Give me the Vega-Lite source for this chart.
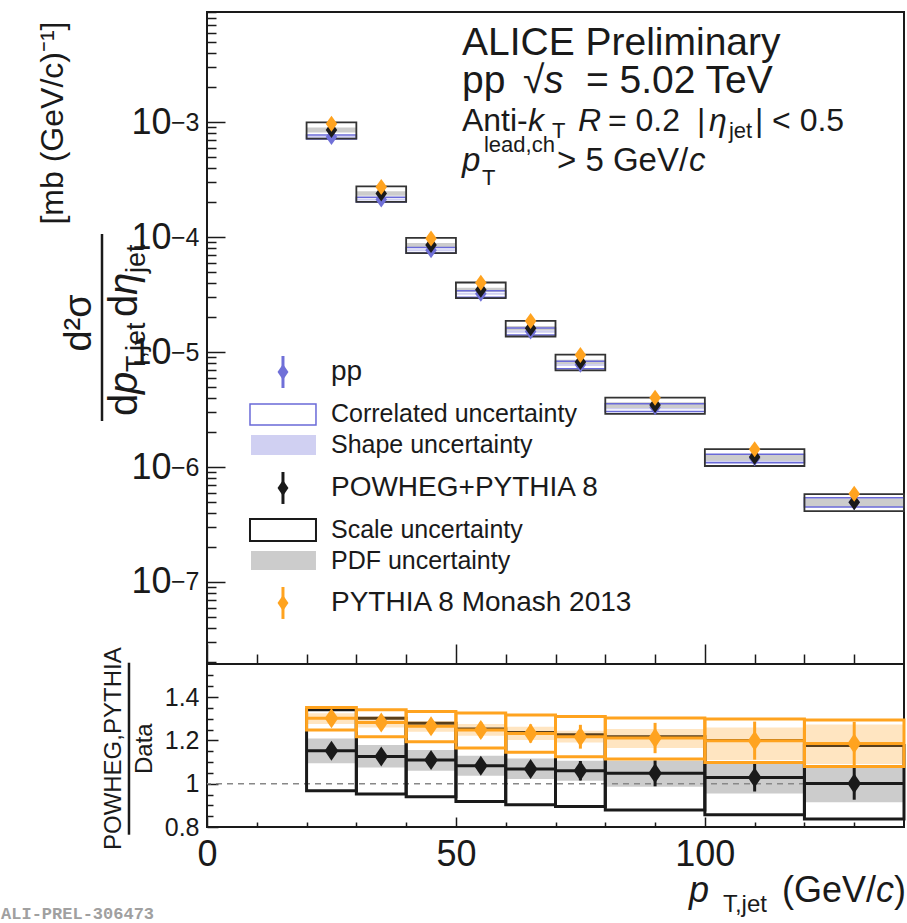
{
  "$schema": "https://vega.github.io/schema/vega-lite/v6.json",
  "padding": {"left": 0, "top": 10, "right": 0, "bottom": 0},
  "autosize": {"type": "pad"},
  "bounds": "flush",
  "spacing": 0,
  "datasets": {
    "bins": [
      {"pt_lo": 20, "pt_hi": 30, "pt": 25, "data": 7.41e-4, "corr_lo": 7.106e-4, "corr_hi": 7.692e-4, "shape_lo": 7.262e-4, "shape_hi": 7.543e-4, "powheg": 8.536e-4, "scale_lo": 7.173e-4, "scale_hi": 9.944e-4, "pdf_lo": 8.107e-4, "pdf_hi": 8.959e-4, "pythia": 9.648e-4, "r_powheg": 1.152, "r_powheg_err": 0.02, "r_scale_lo": 0.968, "r_scale_hi": 1.342, "r_pdf_lo": 1.094, "r_pdf_hi": 1.209, "r_pythia": 1.302, "r_pythia_err": 0.025, "r_corr_lo": 1.248, "r_corr_hi": 1.352, "r_shape_lo": 1.276, "r_shape_hi": 1.325},
      {"pt_lo": 30, "pt_hi": 40, "pt": 35, "data": 2.12e-4, "corr_lo": 2.012e-4, "corr_hi": 2.218e-4, "shape_lo": 2.082e-4, "shape_hi": 2.165e-4, "powheg": 2.387e-4, "scale_lo": 2.018e-4, "scale_hi": 2.76e-4, "pdf_lo": 2.279e-4, "pdf_hi": 2.499e-4, "pythia": 2.72e-4, "r_powheg": 1.126, "r_powheg_err": 0.022, "r_scale_lo": 0.952, "r_scale_hi": 1.302, "r_pdf_lo": 1.075, "r_pdf_hi": 1.179, "r_pythia": 1.283, "r_pythia_err": 0.028, "r_corr_lo": 1.217, "r_corr_hi": 1.342, "r_shape_lo": 1.26, "r_shape_hi": 1.31},
      {"pt_lo": 40, "pt_hi": 50, "pt": 45, "data": 7.69e-5, "corr_lo": 7.259e-5, "corr_hi": 8.113e-5, "shape_lo": 7.536e-5, "shape_hi": 7.844e-5, "powheg": 8.528e-5, "scale_lo": 7.229e-5, "scale_hi": 9.836e-5, "pdf_lo": 8.151e-5, "pdf_hi": 8.89e-5, "pythia": 9.728e-5, "r_powheg": 1.109, "r_powheg_err": 0.025, "r_scale_lo": 0.94, "r_scale_hi": 1.279, "r_pdf_lo": 1.06, "r_pdf_hi": 1.156, "r_pythia": 1.265, "r_pythia_err": 0.032, "r_corr_lo": 1.194, "r_corr_hi": 1.334, "r_shape_lo": 1.24, "r_shape_hi": 1.29},
      {"pt_lo": 50, "pt_hi": 60, "pt": 55, "data": 3.21e-5, "corr_lo": 2.995e-5, "corr_hi": 3.412e-5, "shape_lo": 3.143e-5, "shape_hi": 3.281e-5, "powheg": 3.476e-5, "scale_lo": 2.947e-5, "scale_hi": 4.022e-5, "pdf_lo": 3.329e-5, "pdf_hi": 3.624e-5, "pythia": 4.006e-5, "r_powheg": 1.083, "r_powheg_err": 0.028, "r_scale_lo": 0.918, "r_scale_hi": 1.253, "r_pdf_lo": 1.037, "r_pdf_hi": 1.129, "r_pythia": 1.248, "r_pythia_err": 0.036, "r_corr_lo": 1.165, "r_corr_hi": 1.327, "r_shape_lo": 1.222, "r_shape_hi": 1.276},
      {"pt_lo": 60, "pt_hi": 70, "pt": 65, "data": 1.51e-5, "corr_lo": 1.403e-5, "corr_hi": 1.614e-5, "shape_lo": 1.474e-5, "shape_hi": 1.548e-5, "powheg": 1.613e-5, "scale_lo": 1.364e-5, "scale_hi": 1.866e-5, "pdf_lo": 1.543e-5, "pdf_hi": 1.687e-5, "pythia": 1.86e-5, "r_powheg": 1.068, "r_powheg_err": 0.032, "r_scale_lo": 0.903, "r_scale_hi": 1.236, "r_pdf_lo": 1.022, "r_pdf_hi": 1.117, "r_pythia": 1.232, "r_pythia_err": 0.042, "r_corr_lo": 1.145, "r_corr_hi": 1.317, "r_shape_lo": 1.202, "r_shape_hi": 1.263},
      {"pt_lo": 70, "pt_hi": 80, "pt": 75, "data": 7.74e-6, "corr_lo": 7.152e-6, "corr_hi": 8.328e-6, "shape_lo": 7.57e-6, "shape_hi": 7.918e-6, "powheg": 8.204e-6, "scale_lo": 6.927e-6, "scale_hi": 9.489e-6, "pdf_lo": 7.849e-6, "pdf_hi": 8.56e-6, "pythia": 9.42e-6, "r_powheg": 1.06, "r_powheg_err": 0.045, "r_scale_lo": 0.895, "r_scale_hi": 1.226, "r_pdf_lo": 1.014, "r_pdf_hi": 1.106, "r_pythia": 1.217, "r_pythia_err": 0.055, "r_corr_lo": 1.125, "r_corr_hi": 1.31, "r_shape_lo": 1.19, "r_shape_hi": 1.245},
      {"pt_lo": 80, "pt_hi": 100, "pt": 90, "data": 3.3e-6, "corr_lo": 3.036e-6, "corr_hi": 3.551e-6, "shape_lo": 3.175e-6, "shape_hi": 3.416e-6, "powheg": 3.458e-6, "scale_lo": 2.897e-6, "scale_hi": 4.016e-6, "pdf_lo": 3.254e-6, "pdf_hi": 3.65e-6, "pythia": 3.996e-6, "r_powheg": 1.048, "r_powheg_err": 0.06, "r_scale_lo": 0.878, "r_scale_hi": 1.217, "r_pdf_lo": 0.986, "r_pdf_hi": 1.106, "r_pythia": 1.211, "r_pythia_err": 0.07, "r_corr_lo": 1.114, "r_corr_hi": 1.303, "r_shape_lo": 1.165, "r_shape_hi": 1.253},
      {"pt_lo": 100, "pt_hi": 120, "pt": 110, "data": 1.19e-6, "corr_lo": 1.09e-6, "corr_hi": 1.289e-6, "shape_lo": 1.102e-6, "shape_hi": 1.251e-6, "powheg": 1.2245e-6, "scale_lo": 1.02e-6, "scale_hi": 1.428e-6, "pdf_lo": 1.136e-6, "pdf_hi": 1.298e-6, "pythia": 1.427e-6, "r_powheg": 1.029, "r_powheg_err": 0.065, "r_scale_lo": 0.857, "r_scale_hi": 1.2, "r_pdf_lo": 0.955, "r_pdf_hi": 1.091, "r_pythia": 1.199, "r_pythia_err": 0.088, "r_corr_lo": 1.098, "r_corr_hi": 1.299, "r_shape_lo": 1.11, "r_shape_hi": 1.26},
      {"pt_lo": 120, "pt_hi": 140, "pt": 130, "data": 4.94e-7, "corr_lo": 4.495e-7, "corr_hi": 5.39e-7, "shape_lo": 4.545e-7, "shape_hi": 5.301e-7, "powheg": 4.945e-7, "scale_lo": 4.135e-7, "scale_hi": 5.809e-7, "pdf_lo": 4.515e-7, "pdf_hi": 5.33e-7, "pythia": 5.859e-7, "r_powheg": 1.001, "r_powheg_err": 0.075, "r_scale_lo": 0.837, "r_scale_hi": 1.176, "r_pdf_lo": 0.914, "r_pdf_hi": 1.079, "r_pythia": 1.186, "r_pythia_err": 0.1, "r_corr_lo": 1.079, "r_corr_hi": 1.294, "r_shape_lo": 1.091, "r_shape_hi": 1.273}
    ]
  },
  "vconcat": [
    {
      "width": 697,
      "height": 652,
      "data": {"name": "bins"},
      "layer": [
        {
          "mark": {"type": "rect", "fill": "#d0d0f2"},
          "encoding": {
            "x": {"field": "pt_lo", "type": "quantitative", "scale": {"domain": [0, 140], "nice": false, "zero": false},
                  "axis": {"orient": "bottom", "values": [0, 50, 100], "tickSize": -20, "labels": false, "domain": false, "grid": false, "title": null}},
            "x2": {"field": "pt_hi"},
            "y": {"field": "shape_lo", "type": "quantitative", "scale": {"type": "log", "domain": [1.936e-8, 9.05e-3], "nice": false},
                  "axis": {"orient": "left", "values": [1e-7, 1e-6, 1e-5, 1e-4, 1e-3], "tickSize": -18, "labels": false, "domain": false, "grid": false, "title": null}},
            "y2": {"field": "shape_hi"}
          }
        },
        {
          "mark": {"type": "rect", "fill": "#cccccc"},
          "encoding": {
            "x": {"field": "pt_lo", "type": "quantitative",
                  "axis": {"orient": "bottom", "values": [10, 20, 30, 40, 60, 70, 80, 90, 110, 120, 130], "tickSize": -10, "labels": false, "domain": false, "grid": false, "title": null}},
            "x2": {"field": "pt_hi"},
            "y": {"field": "pdf_lo", "type": "quantitative",
                  "axis": {"orient": "left", "values": [2e-8, 3e-8, 4e-8, 5e-8, 6e-8, 7e-8, 8e-8, 9e-8, 2e-7, 3e-7, 4e-7, 5e-7, 6e-7, 7e-7, 8e-7, 9e-7, 2e-6, 3e-6, 4e-6, 5e-6, 6e-6, 7e-6, 8e-6, 9e-6, 2e-5, 3e-5, 4e-5, 5e-5, 6e-5, 7e-5, 8e-5, 9e-5, 2e-4, 3e-4, 4e-4, 5e-4, 6e-4, 7e-4, 8e-4, 9e-4, 2e-3, 3e-3, 4e-3, 5e-3, 6e-3, 7e-3, 8e-3, 9e-3], "tickSize": -9, "labels": false, "domain": false, "grid": false, "title": null}},
            "y2": {"field": "pdf_hi"}
          }
        },
        {
          "mark": {"type": "rect", "fill": "transparent", "stroke": "#6a6ad8", "strokeWidth": 1.5},
          "encoding": {
            "x": {"field": "pt_lo", "type": "quantitative", "axis": null},
            "x2": {"field": "pt_hi"},
            "y": {"field": "corr_lo", "type": "quantitative",
                  "axis": {"orient": "left", "values": [1e-7, 1e-6, 1e-5, 1e-4, 1e-3], "ticks": false, "labelExpr": "'10'", "labelFontSize": 36, "labelPadding": 36, "labelAlign": "right", "labelBaseline": "middle", "labelFlush": false, "labelOverlap": false, "domain": false, "grid": false, "title": null}},
            "y2": {"field": "corr_hi"}
          }
        },
        {
          "mark": {"type": "rect", "fill": "transparent", "stroke": "#333333", "strokeWidth": 1.8},
          "encoding": {
            "x": {"field": "pt_lo", "type": "quantitative", "axis": null},
            "x2": {"field": "pt_hi"},
            "y": {"field": "scale_lo", "type": "quantitative",
                  "axis": {"orient": "left", "values": [1e-7, 1e-6, 1e-5, 1e-4, 1e-3], "ticks": false, "labelExpr": "'−' + round(-log(datum.value) / LN10)", "labelFontSize": 25, "labelPadding": 8, "labelDy": -14, "labelAlign": "right", "labelBaseline": "middle", "labelFlush": false, "labelOverlap": false, "domain": false, "grid": false, "title": null}},
            "y2": {"field": "scale_hi"}
          }
        },
        {
          "mark": {"type": "point", "shape": "M0,-1L0.72,0L0,1L-0.72,0Z", "filled": true, "size": 256, "opacity": 1, "color": "#7070d8"},
          "encoding": {
            "x": {"field": "pt", "type": "quantitative", "axis": null},
            "y": {"field": "data", "type": "quantitative", "axis": null}
          }
        },
        {
          "mark": {"type": "point", "shape": "M0,-1L0.72,0L0,1L-0.72,0Z", "filled": true, "size": 256, "opacity": 1, "color": "#1a1a1a"},
          "encoding": {
            "x": {"field": "pt", "type": "quantitative", "axis": null},
            "y": {"field": "powheg", "type": "quantitative", "axis": null}
          }
        },
        {
          "mark": {"type": "point", "shape": "M0,-1L0.72,0L0,1L-0.72,0Z", "filled": true, "size": 256, "opacity": 1, "color": "#ffa31f"},
          "encoding": {
            "x": {"field": "pt", "type": "quantitative", "axis": null},
            "y": {"field": "pythia", "type": "quantitative", "axis": null}
          }
        },
        {
          "data": {"values": [{}]},
          "mark": {"type": "rule", "color": "#7070d8", "strokeWidth": 3},
          "encoding": {"x": {"datum": 15.26, "type": "quantitative", "axis": null}, "y": {"datum": 9.23e-6, "type": "quantitative", "axis": null}, "y2": {"datum": 4.864e-6}}
        },
        {
          "data": {"values": [{}]},
          "mark": {"type": "point", "shape": "M0,-1L0.68,0L0,1L-0.68,0Z", "filled": true, "size": 256, "opacity": 1, "color": "#7070d8"},
          "encoding": {"x": {"datum": 15.26, "type": "quantitative", "axis": null}, "y": {"datum": 6.7e-6, "type": "quantitative", "axis": null}}
        },
        {
          "data": {"values": [{}]},
          "mark": {"type": "text", "text": "pp", "fontSize": 28, "align": "left", "baseline": "middle", "color": "#1a1a1a"},
          "encoding": {"x": {"datum": 24.9, "type": "quantitative", "axis": null}, "y": {"datum": 6.7e-6, "type": "quantitative", "axis": null}}
        },
        {
          "data": {"values": [{}]},
          "mark": {"type": "rect", "fill": "white", "stroke": "#6a6ad8", "strokeWidth": 1.5},
          "encoding": {"x": {"datum": 8.636, "type": "quantitative", "axis": null}, "x2": {"datum": 21.89}, "y": {"datum": 3.53e-6, "type": "quantitative", "axis": null}, "y2": {"datum": 2.318e-6}}
        },
        {
          "data": {"values": [{}]},
          "mark": {"type": "text", "text": "Correlated uncertainty", "fontSize": 25, "align": "left", "baseline": "middle", "color": "#1a1a1a"},
          "encoding": {"x": {"datum": 24.9, "type": "quantitative", "axis": null}, "y": {"datum": 2.89e-6, "type": "quantitative", "axis": null}}
        },
        {
          "data": {"values": [{}]},
          "mark": {"type": "rect", "fill": "#d0d0f2"},
          "encoding": {"x": {"datum": 8.837, "type": "quantitative", "axis": null}, "x2": {"datum": 21.89}, "y": {"datum": 1.898e-6, "type": "quantitative", "axis": null}, "y2": {"datum": 1.272e-6}}
        },
        {
          "data": {"values": [{}]},
          "mark": {"type": "text", "text": "Shape uncertainty", "fontSize": 25, "align": "left", "baseline": "middle", "color": "#1a1a1a"},
          "encoding": {"x": {"datum": 24.9, "type": "quantitative", "axis": null}, "y": {"datum": 1.553e-6, "type": "quantitative", "axis": null}}
        },
        {
          "data": {"values": [{}]},
          "mark": {"type": "rule", "color": "#1a1a1a", "strokeWidth": 3},
          "encoding": {"x": {"datum": 15.26, "type": "quantitative", "axis": null}, "y": {"datum": 9.05e-7, "type": "quantitative", "axis": null}, "y2": {"datum": 4.77e-7}}
        },
        {
          "data": {"values": [{}]},
          "mark": {"type": "point", "shape": "M0,-1L0.68,0L0,1L-0.68,0Z", "filled": true, "size": 256, "opacity": 1, "color": "#1a1a1a"},
          "encoding": {"x": {"datum": 15.26, "type": "quantitative", "axis": null}, "y": {"datum": 6.57e-7, "type": "quantitative", "axis": null}}
        },
        {
          "data": {"values": [{}]},
          "mark": {"type": "text", "text": "POWHEG+PYTHIA 8", "fontSize": 28, "align": "left", "baseline": "middle", "color": "#1a1a1a"},
          "encoding": {"x": {"datum": 24.9, "type": "quantitative", "axis": null}, "y": {"datum": 6.57e-7, "type": "quantitative", "axis": null}}
        },
        {
          "data": {"values": [{}]},
          "mark": {"type": "rect", "fill": "white", "stroke": "#1a1a1a", "strokeWidth": 2},
          "encoding": {"x": {"datum": 8.636, "type": "quantitative", "axis": null}, "x2": {"datum": 21.89}, "y": {"datum": 3.53e-7, "type": "quantitative", "axis": null}, "y2": {"datum": 2.272e-7}}
        },
        {
          "data": {"values": [{}]},
          "mark": {"type": "text", "text": "Scale uncertainty", "fontSize": 25, "align": "left", "baseline": "middle", "color": "#1a1a1a"},
          "encoding": {"x": {"datum": 24.9, "type": "quantitative", "axis": null}, "y": {"datum": 2.832e-7, "type": "quantitative", "axis": null}}
        },
        {
          "data": {"values": [{}]},
          "mark": {"type": "rect", "fill": "#cccccc"},
          "encoding": {"x": {"datum": 8.837, "type": "quantitative", "axis": null}, "x2": {"datum": 21.89}, "y": {"datum": 1.861e-7, "type": "quantitative", "axis": null}, "y2": {"datum": 1.272e-7}}
        },
        {
          "data": {"values": [{}]},
          "mark": {"type": "text", "text": "PDF uncertainty", "fontSize": 25, "align": "left", "baseline": "middle", "color": "#1a1a1a"},
          "encoding": {"x": {"datum": 24.9, "type": "quantitative", "axis": null}, "y": {"datum": 1.523e-7, "type": "quantitative", "axis": null}}
        },
        {
          "data": {"values": [{}]},
          "mark": {"type": "rule", "color": "#ffa31f", "strokeWidth": 3},
          "encoding": {"x": {"datum": 15.26, "type": "quantitative", "axis": null}, "y": {"datum": 9.05e-8, "type": "quantitative", "axis": null}, "y2": {"datum": 4.77e-8}}
        },
        {
          "data": {"values": [{}]},
          "mark": {"type": "point", "shape": "M0,-1L0.68,0L0,1L-0.68,0Z", "filled": true, "size": 256, "opacity": 1, "color": "#ffa31f"},
          "encoding": {"x": {"datum": 15.26, "type": "quantitative", "axis": null}, "y": {"datum": 6.57e-8, "type": "quantitative", "axis": null}}
        },
        {
          "data": {"values": [{}]},
          "mark": {"type": "text", "text": "PYTHIA 8 Monash 2013", "fontSize": 28, "align": "left", "baseline": "middle", "color": "#1a1a1a"},
          "encoding": {"x": {"datum": 24.9, "type": "quantitative", "axis": null}, "y": {"datum": 6.57e-8, "type": "quantitative", "axis": null}}
        },
        {
          "data": {"values": [{}]},
          "mark": {"type": "text", "text": "ALICE Preliminary", "fontSize": 39, "align": "left", "baseline": "alphabetic", "color": "#1a1a1a"},
          "encoding": {"x": {"datum": 51.21, "type": "quantitative", "axis": null}, "y": {"datum": 3.825e-3, "type": "quantitative", "axis": null}}
        },
        {
          "data": {"values": [{}]},
          "mark": {"type": "text", "text": "pp", "fontSize": 39, "align": "left", "baseline": "alphabetic", "color": "#1a1a1a"},
          "encoding": {"x": {"datum": 51.21, "type": "quantitative", "axis": null}, "y": {"datum": 1.788e-3, "type": "quantitative", "axis": null}}
        },
        {
          "data": {"values": [{}]},
          "mark": {"type": "text", "text": "√", "fontSize": 39, "align": "left", "baseline": "alphabetic", "color": "#1a1a1a"},
          "encoding": {"x": {"datum": 63.47, "type": "quantitative", "axis": null}, "y": {"datum": 1.788e-3, "type": "quantitative", "axis": null}}
        },
        {
          "data": {"values": [{}]},
          "mark": {"type": "text", "text": "s", "fontSize": 39, "fontStyle": "italic", "align": "left", "baseline": "alphabetic", "color": "#1a1a1a"},
          "encoding": {"x": {"datum": 67.69, "type": "quantitative", "axis": null}, "y": {"datum": 1.788e-3, "type": "quantitative", "axis": null}}
        },
        {
          "data": {"values": [{}]},
          "mark": {"type": "text", "text": "= 5.02 TeV", "fontSize": 39, "align": "left", "baseline": "alphabetic", "color": "#1a1a1a"},
          "encoding": {"x": {"datum": 76.12, "type": "quantitative", "axis": null}, "y": {"datum": 1.788e-3, "type": "quantitative", "axis": null}}
        },
        {
          "data": {"values": [{}]},
          "mark": {"type": "text", "text": "Anti-", "fontSize": 32, "align": "left", "baseline": "alphabetic", "color": "#1a1a1a"},
          "encoding": {"x": {"datum": 51.21, "type": "quantitative", "axis": null}, "y": {"datum": 8.35e-4, "type": "quantitative", "axis": null}}
        },
        {
          "data": {"values": [{}]},
          "mark": {"type": "text", "text": "k", "fontSize": 32, "fontStyle": "italic", "align": "left", "baseline": "alphabetic", "color": "#1a1a1a"},
          "encoding": {"x": {"datum": 64.47, "type": "quantitative", "axis": null}, "y": {"datum": 8.35e-4, "type": "quantitative", "axis": null}}
        },
        {
          "data": {"values": [{}]},
          "mark": {"type": "text", "text": "T", "fontSize": 22, "align": "left", "baseline": "alphabetic", "color": "#1a1a1a"},
          "encoding": {"x": {"datum": 69.29, "type": "quantitative", "axis": null}, "y": {"datum": 7.26e-4, "type": "quantitative", "axis": null}}
        },
        {
          "data": {"values": [{}]},
          "mark": {"type": "text", "text": "R", "fontSize": 32, "fontStyle": "italic", "align": "left", "baseline": "alphabetic", "color": "#1a1a1a"},
          "encoding": {"x": {"datum": 74.51, "type": "quantitative", "axis": null}, "y": {"datum": 8.35e-4, "type": "quantitative", "axis": null}}
        },
        {
          "data": {"values": [{}]},
          "mark": {"type": "text", "text": "= 0.2", "fontSize": 32, "align": "left", "baseline": "alphabetic", "color": "#1a1a1a"},
          "encoding": {"x": {"datum": 80.53, "type": "quantitative", "axis": null}, "y": {"datum": 8.35e-4, "type": "quantitative", "axis": null}}
        },
        {
          "data": {"values": [{}]},
          "mark": {"type": "text", "text": "|", "fontSize": 32, "align": "left", "baseline": "alphabetic", "color": "#1a1a1a"},
          "encoding": {"x": {"datum": 98.41, "type": "quantitative", "axis": null}, "y": {"datum": 8.35e-4, "type": "quantitative", "axis": null}}
        },
        {
          "data": {"values": [{}]},
          "mark": {"type": "text", "text": "η", "fontSize": 32, "fontStyle": "italic", "align": "left", "baseline": "alphabetic", "color": "#1a1a1a"},
          "encoding": {"x": {"datum": 100.82, "type": "quantitative", "axis": null}, "y": {"datum": 8.35e-4, "type": "quantitative", "axis": null}}
        },
        {
          "data": {"values": [{}]},
          "mark": {"type": "text", "text": "jet", "fontSize": 22, "align": "left", "baseline": "alphabetic", "color": "#1a1a1a"},
          "encoding": {"x": {"datum": 104.83, "type": "quantitative", "axis": null}, "y": {"datum": 7.26e-4, "type": "quantitative", "axis": null}}
        },
        {
          "data": {"values": [{}]},
          "mark": {"type": "text", "text": "| < 0.5", "fontSize": 32, "align": "left", "baseline": "alphabetic", "color": "#1a1a1a"},
          "encoding": {"x": {"datum": 110.05, "type": "quantitative", "axis": null}, "y": {"datum": 8.35e-4, "type": "quantitative", "axis": null}}
        },
        {
          "data": {"values": [{}]},
          "mark": {"type": "text", "text": "p", "fontSize": 33, "fontStyle": "italic", "align": "left", "baseline": "alphabetic", "color": "#1a1a1a"},
          "encoding": {"x": {"datum": 51.21, "type": "quantitative", "axis": null}, "y": {"datum": 3.749e-4, "type": "quantitative", "axis": null}}
        },
        {
          "data": {"values": [{}]},
          "mark": {"type": "text", "text": "lead,ch", "fontSize": 22, "align": "left", "baseline": "alphabetic", "color": "#1a1a1a"},
          "encoding": {"x": {"datum": 55.63, "type": "quantitative", "axis": null}, "y": {"datum": 5.484e-4, "type": "quantitative", "axis": null}}
        },
        {
          "data": {"values": [{}]},
          "mark": {"type": "text", "text": "T", "fontSize": 22, "align": "left", "baseline": "alphabetic", "color": "#1a1a1a"},
          "encoding": {"x": {"datum": 55.23, "type": "quantitative", "axis": null}, "y": {"datum": 2.833e-4, "type": "quantitative", "axis": null}}
        },
        {
          "data": {"values": [{}]},
          "mark": {"type": "text", "text": "> 5 GeV/", "fontSize": 33, "align": "left", "baseline": "alphabetic", "color": "#1a1a1a"},
          "encoding": {"x": {"datum": 70.29, "type": "quantitative", "axis": null}, "y": {"datum": 3.749e-4, "type": "quantitative", "axis": null}}
        },
        {
          "data": {"values": [{}]},
          "mark": {"type": "text", "text": "c", "fontSize": 33, "fontStyle": "italic", "align": "left", "baseline": "alphabetic", "color": "#1a1a1a"},
          "encoding": {"x": {"datum": 96.8, "type": "quantitative", "axis": null}, "y": {"datum": 3.749e-4, "type": "quantitative", "axis": null}}
        },
        {
          "data": {"values": [{}]},
          "mark": {"type": "text", "text": "[mb (GeV/c)⁻¹]", "fontSize": 32, "angle": 270, "align": "center", "baseline": "alphabetic", "color": "#1a1a1a"},
          "encoding": {"x": {"datum": -28.92, "type": "quantitative", "axis": null}, "y": {"datum": 9.8e-4, "type": "quantitative", "axis": null}}
        },
        {
          "data": {"values": [{}]},
          "mark": {"type": "text", "text": "d²σ", "fontSize": 38, "angle": 270, "align": "center", "baseline": "alphabetic", "color": "#1a1a1a"},
          "encoding": {"x": {"datum": -23.3, "type": "quantitative", "axis": null}, "y": {"datum": 1.788e-5, "type": "quantitative", "axis": null}}
        },
        {
          "data": {"values": [{}]},
          "mark": {"type": "rule", "color": "#1a1a1a", "strokeWidth": 2.5},
          "encoding": {"x": {"datum": -21.09, "type": "quantitative", "axis": null}, "y": {"datum": 1.062e-4, "type": "quantitative", "axis": null}, "y2": {"datum": 2.512e-6}}
        },
        {
          "data": {"values": [{}]},
          "mark": {"type": "text", "text": "d", "fontSize": 40, "angle": 270, "align": "left", "baseline": "alphabetic", "color": "#1a1a1a"},
          "encoding": {"x": {"datum": -14.06, "type": "quantitative", "axis": null}, "y": {"datum": 2.776e-6, "type": "quantitative", "axis": null}}
        },
        {
          "data": {"values": [{}]},
          "mark": {"type": "text", "text": "p", "fontSize": 40, "fontStyle": "italic", "angle": 270, "align": "left", "baseline": "alphabetic", "color": "#1a1a1a"},
          "encoding": {"x": {"datum": -14.06, "type": "quantitative", "axis": null}, "y": {"datum": 4.313e-6, "type": "quantitative", "axis": null}}
        },
        {
          "data": {"values": [{}]},
          "mark": {"type": "text", "text": "T,jet", "fontSize": 27, "angle": 270, "align": "left", "baseline": "alphabetic", "color": "#1a1a1a"},
          "encoding": {"x": {"datum": -12.45, "type": "quantitative", "axis": null}, "y": {"datum": 6.7e-6, "type": "quantitative", "axis": null}}
        },
        {
          "data": {"values": [{}]},
          "mark": {"type": "text", "text": "d", "fontSize": 40, "angle": 270, "align": "left", "baseline": "alphabetic", "color": "#1a1a1a"},
          "encoding": {"x": {"datum": -14.06, "type": "quantitative", "axis": null}, "y": {"datum": 2.015e-5, "type": "quantitative", "axis": null}}
        },
        {
          "data": {"values": [{}]},
          "mark": {"type": "text", "text": "η", "fontSize": 40, "fontStyle": "italic", "angle": 270, "align": "left", "baseline": "alphabetic", "color": "#1a1a1a"},
          "encoding": {"x": {"datum": -14.06, "type": "quantitative", "axis": null}, "y": {"datum": 3.131e-5, "type": "quantitative", "axis": null}}
        },
        {
          "data": {"values": [{}]},
          "mark": {"type": "text", "text": "jet", "fontSize": 27, "angle": 270, "align": "left", "baseline": "alphabetic", "color": "#1a1a1a"},
          "encoding": {"x": {"datum": -12.45, "type": "quantitative", "axis": null}, "y": {"datum": 4.864e-5, "type": "quantitative", "axis": null}}
        }
      ],
      "resolve": {"axis": {"x": "independent", "y": "independent"}}
    },
    {
      "width": 697,
      "height": 163,
      "data": {"name": "bins"},
      "layer": [
        {
          "mark": {"type": "rect", "fill": "#cccccc"},
          "encoding": {
            "x": {"field": "pt_lo", "type": "quantitative", "scale": {"domain": [0, 140], "nice": false, "zero": false},
                  "axis": {"orient": "bottom", "values": [0, 50, 100], "tickSize": -10, "labels": false, "domain": false, "grid": false, "title": null}},
            "x2": {"field": "pt_hi"},
            "y": {"field": "r_pdf_lo", "type": "quantitative", "scale": {"domain": [0.8, 1.553], "nice": false, "zero": false},
                  "axis": {"orient": "left", "values": [0.8, 1.0, 1.2, 1.4], "tickSize": -11, "labels": false, "domain": false, "grid": false, "title": null}},
            "y2": {"field": "r_pdf_hi"}
          }
        },
        {
          "data": {"values": [{}]},
          "mark": {"type": "rule", "color": "#888888", "strokeWidth": 1.5, "strokeDash": [6, 5]},
          "encoding": {"y": {"datum": 1, "type": "quantitative", "axis": null}}
        },
        {
          "mark": {"type": "rect", "fill": "transparent", "stroke": "#1a1a1a", "strokeWidth": 3},
          "encoding": {
            "x": {"field": "pt_lo", "type": "quantitative",
                  "axis": {"orient": "bottom", "values": [10, 20, 30, 40, 60, 70, 80, 90, 110, 120, 130], "tickSize": -5, "labels": false, "domain": false, "grid": false, "title": null}},
            "x2": {"field": "pt_hi"},
            "y": {"field": "r_scale_lo", "type": "quantitative",
                  "axis": {"orient": "left", "values": [0.85, 0.9, 0.95, 1.05, 1.1, 1.15, 1.25, 1.3, 1.35, 1.45, 1.5], "tickSize": -6, "labels": false, "domain": false, "grid": false, "title": null}},
            "y2": {"field": "r_scale_hi"}
          }
        },
        {
          "mark": {"type": "rule", "color": "#1a1a1a", "strokeWidth": 3},
          "encoding": {
            "x": {"field": "pt_lo", "type": "quantitative",
                  "axis": {"orient": "bottom", "values": [0, 50, 100], "ticks": false, "labelFontSize": 36, "labelPadding": 10, "labelFlush": false, "labelOverlap": false, "labelBaseline": "top", "domain": false, "grid": false, "title": null}},
            "x2": {"field": "pt_hi"},
            "y": {"field": "r_powheg", "type": "quantitative",
                  "axis": {"orient": "left", "values": [0.8, 1.0, 1.2, 1.4], "ticks": false, "labelExpr": "datum.value == 1 ? '1' : format(datum.value, '.1f')", "labelFontSize": 25, "labelPadding": 8, "labelFlush": false, "labelOverlap": false, "labelAlign": "right", "labelBaseline": "middle", "domain": false, "grid": false, "title": null}}
          }
        },
        {
          "mark": {"type": "errorbar", "color": "#1a1a1a", "rule": {"strokeWidth": 3}},
          "encoding": {
            "x": {"field": "pt", "type": "quantitative", "axis": null},
            "y": {"field": "r_powheg", "type": "quantitative", "axis": null},
            "yError": {"field": "r_powheg_err"}
          }
        },
        {
          "mark": {"type": "point", "shape": "M0,-1L0.68,0L0,1L-0.68,0Z", "filled": true, "size": 400, "opacity": 1, "color": "#1a1a1a"},
          "encoding": {
            "x": {"field": "pt", "type": "quantitative", "axis": null},
            "y": {"field": "r_powheg", "type": "quantitative", "axis": null}
          }
        },
        {
          "mark": {"type": "rect", "fill": "#ffa31f", "fillOpacity": 0.28},
          "encoding": {
            "x": {"field": "pt_lo", "type": "quantitative", "axis": null},
            "x2": {"field": "pt_hi"},
            "y": {"field": "r_shape_lo", "type": "quantitative", "axis": null},
            "y2": {"field": "r_shape_hi"}
          }
        },
        {
          "mark": {"type": "rect", "fill": "transparent", "stroke": "#ffa31f", "strokeWidth": 3},
          "encoding": {
            "x": {"field": "pt_lo", "type": "quantitative", "axis": null},
            "x2": {"field": "pt_hi"},
            "y": {"field": "r_corr_lo", "type": "quantitative", "axis": null},
            "y2": {"field": "r_corr_hi"}
          }
        },
        {
          "mark": {"type": "rule", "color": "#ffa31f", "strokeWidth": 3},
          "encoding": {
            "x": {"field": "pt_lo", "type": "quantitative", "axis": null},
            "x2": {"field": "pt_hi"},
            "y": {"field": "r_pythia", "type": "quantitative", "axis": null}
          }
        },
        {
          "mark": {"type": "errorbar", "color": "#ffa31f", "rule": {"strokeWidth": 3}},
          "encoding": {
            "x": {"field": "pt", "type": "quantitative", "axis": null},
            "y": {"field": "r_pythia", "type": "quantitative", "axis": null},
            "yError": {"field": "r_pythia_err"}
          }
        },
        {
          "mark": {"type": "point", "shape": "M0,-1L0.68,0L0,1L-0.68,0Z", "filled": true, "size": 400, "opacity": 1, "color": "#ffa31f"},
          "encoding": {
            "x": {"field": "pt", "type": "quantitative", "axis": null},
            "y": {"field": "r_pythia", "type": "quantitative", "axis": null}
          }
        },
        {
          "data": {"values": [{}]},
          "mark": {"type": "text", "text": ")", "fontSize": 36, "align": "right", "baseline": "alphabetic", "color": "#1a1a1a"},
          "encoding": {"x": {"datum": 140.39, "type": "quantitative", "axis": null}, "y": {"datum": 0.455, "type": "quantitative", "axis": null}}
        },
        {
          "data": {"values": [{}]},
          "mark": {"type": "text", "text": "c", "fontSize": 36, "fontStyle": "italic", "align": "right", "baseline": "alphabetic", "color": "#1a1a1a"},
          "encoding": {"x": {"datum": 137.98, "type": "quantitative", "axis": null}, "y": {"datum": 0.455, "type": "quantitative", "axis": null}}
        },
        {
          "data": {"values": [{}]},
          "mark": {"type": "text", "text": "(GeV/", "fontSize": 36, "align": "right", "baseline": "alphabetic", "color": "#1a1a1a"},
          "encoding": {"x": {"datum": 134.36, "type": "quantitative", "axis": null}, "y": {"datum": 0.455, "type": "quantitative", "axis": null}}
        },
        {
          "data": {"values": [{}]},
          "mark": {"type": "text", "text": "T,jet", "fontSize": 24, "align": "right", "baseline": "alphabetic", "color": "#1a1a1a"},
          "encoding": {"x": {"datum": 112.47, "type": "quantitative", "axis": null}, "y": {"datum": 0.4088, "type": "quantitative", "axis": null}}
        },
        {
          "data": {"values": [{}]},
          "mark": {"type": "text", "text": "p", "fontSize": 36, "fontStyle": "italic", "align": "right", "baseline": "alphabetic", "color": "#1a1a1a"},
          "encoding": {"x": {"datum": 100.82, "type": "quantitative", "axis": null}, "y": {"datum": 0.455, "type": "quantitative", "axis": null}}
        },
        {
          "data": {"values": [{}]},
          "mark": {"type": "text", "text": "POWHEG,PYTHIA", "fontSize": 24, "angle": 270, "align": "center", "baseline": "alphabetic", "color": "#1a1a1a"},
          "encoding": {"x": {"datum": -17.27, "type": "quantitative", "axis": null}, "y": {"datum": 1.1617, "type": "quantitative", "axis": null}}
        },
        {
          "data": {"values": [{}]},
          "mark": {"type": "rule", "color": "#1a1a1a", "strokeWidth": 2.5},
          "encoding": {"x": {"datum": -15.67, "type": "quantitative", "axis": null}, "y": {"datum": 1.5589, "type": "quantitative", "axis": null}, "y2": {"datum": 0.7644}}
        },
        {
          "data": {"values": [{}]},
          "mark": {"type": "text", "text": "Data", "fontSize": 24, "angle": 270, "align": "center", "baseline": "alphabetic", "color": "#1a1a1a"},
          "encoding": {"x": {"datum": -11.05, "type": "quantitative", "axis": null}, "y": {"datum": 1.1617, "type": "quantitative", "axis": null}}
        },
        {
          "data": {"values": [{}]},
          "mark": {"type": "text", "text": "ALI-PREL-306473", "font": "Liberation Mono", "fontWeight": "bold", "fontSize": 17, "align": "left", "baseline": "alphabetic", "color": "#a0a0a0"},
          "encoding": {"x": {"datum": -41.37, "type": "quantitative", "axis": null}, "y": {"datum": 0.3764, "type": "quantitative", "axis": null}}
        }
      ],
      "resolve": {"axis": {"x": "independent", "y": "independent"}}
    }
  ],
  "config": {
    "font": "Liberation Sans",
    "view": {"stroke": "#1a1a1a", "strokeWidth": 2},
    "axis": {"labelFont": "Liberation Sans", "labelColor": "#1a1a1a", "tickColor": "#1a1a1a", "tickWidth": 1.5, "grid": false, "domain": false},
    "text": {"font": "Liberation Sans"}
  }
}
